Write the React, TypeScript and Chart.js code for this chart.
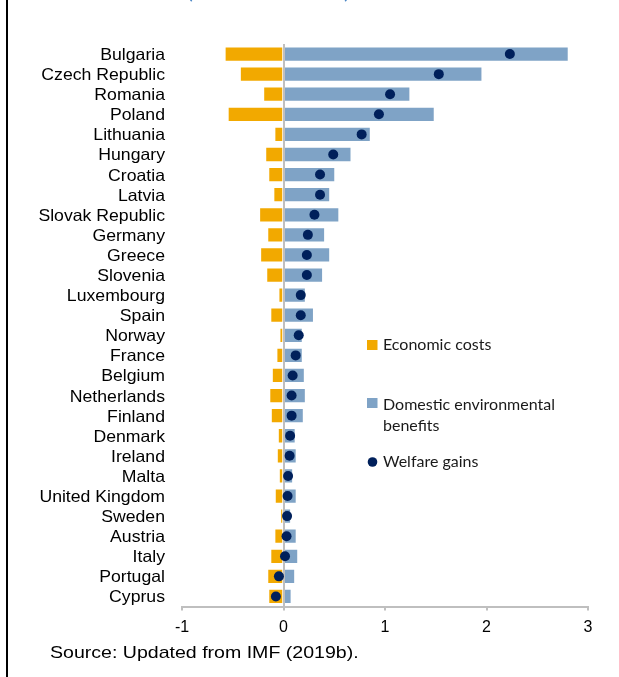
import React, { useEffect, useRef } from "react";
import { Chart, registerables } from "chart.js";

Chart.register(...registerables);

const countries = [
  "Bulgaria", "Czech Republic", "Romania", "Poland", "Lithuania", "Hungary", "Croatia",
  "Latvia", "Slovak Republic", "Germany", "Greece", "Slovenia", "Luxembourg", "Spain",
  "Norway", "France", "Belgium", "Netherlands", "Finland", "Denmark", "Ireland", "Malta",
  "United Kingdom", "Sweden", "Austria", "Italy", "Portugal", "Cyprus",
];

const economicCosts = [
  -0.58, -0.43, -0.2, -0.55, -0.09, -0.18, -0.15, -0.1, -0.24, -0.16, -0.23, -0.17, -0.05, -0.13,
  -0.04, -0.07, -0.115, -0.14, -0.125, -0.056, -0.066, -0.046, -0.086, -0.033, -0.09, -0.13, -0.16, -0.15,
];

const environmentalBenefits = [
  2.81, 1.96, 1.25, 1.49, 0.86, 0.67, 0.51, 0.46, 0.55, 0.41, 0.46, 0.39, 0.22, 0.3,
  0.19, 0.19, 0.21, 0.22, 0.2, 0.12, 0.13, 0.095, 0.13, 0.075, 0.13, 0.145, 0.115, 0.08,
];

const welfareGains = [
  2.23, 1.53, 1.05, 0.94, 0.77, 0.49, 0.36, 0.36, 0.305, 0.24, 0.23, 0.23, 0.17, 0.17,
  0.15, 0.12, 0.09, 0.08, 0.08, 0.065, 0.06, 0.045, 0.04, 0.035, 0.03, 0.015, -0.045, -0.075,
];

const xTicks = [-1, 0, 1, 2, 3];

const seriesNames = ["Economic costs", "Domestic environmental", "benefits", "Welfare gains"];
const titleText = "(Percent of GDP)";
const sourceText = "Source: Updated from IMF (2019b).";

const ORANGE = "#F2A900";
const BLUE = "#7FA3C6";
const NAVY = "#00205B";
const GRAY = "#BFBFBF";

function drawStretched(ctx: CanvasRenderingContext2D, text: string, x: number, y: number, sx: number, align: CanvasTextAlign) {
  ctx.save();
  ctx.translate(x, y);
  ctx.scale(sx, 1);
  ctx.textAlign = align;
  ctx.textBaseline = "alphabetic";
  ctx.fillText(text, 0, 0);
  ctx.restore();
}

const decorPlugin = {
  id: "decor",
  beforeDatasetDraw(chart: any, args: any) {
    if (args.meta.type !== "line") return;
    const ctx = chart.ctx as CanvasRenderingContext2D;
    const xs = chart.scales.x;
    const area = chart.chartArea;
    const x0 = Math.round(xs.getPixelForValue(0));
    ctx.save();
    ctx.strokeStyle = GRAY;
    ctx.lineWidth = 2;
    ctx.beginPath();
    ctx.moveTo(x0, area.top);
    ctx.lineTo(x0, area.bottom);
    ctx.stroke();
    ctx.restore();
  },
  afterDraw(chart: any) {
    const ctx = chart.ctx as CanvasRenderingContext2D;
    const ys = chart.scales.y;
    ctx.save();
    ctx.fillStyle = "#000";
    ctx.font = '16.5px "Liberation Sans", Arial, sans-serif';
    countries.forEach((c, i) => {
      const py = ys.getPixelForValue(i);
      drawStretched(ctx, c, 165, py + 6, 1.07, "right");
    });

    // legend
    ctx.font = '16px Lato, "Noto Sans", sans-serif';
    ctx.fillStyle = ORANGE;
    ctx.fillRect(367, 340, 10.5, 10);
    ctx.fillStyle = BLUE;
    ctx.fillRect(367, 398, 10.5, 10);
    ctx.fillStyle = NAVY;
    ctx.beginPath();
    ctx.arc(372.5, 462, 4.8, 0, Math.PI * 2);
    ctx.fill();
    ctx.fillStyle = "#1a1a1a";
    drawStretched(ctx, seriesNames[0], 383, 350, 1, "left");
    drawStretched(ctx, seriesNames[1], 383, 409.5, 1, "left");
    drawStretched(ctx, seriesNames[2], 383, 430.5, 1, "left");
    drawStretched(ctx, seriesNames[3], 383, 467, 1, "left");

    // source
    ctx.fillStyle = "#000";
    ctx.font = '17px "Liberation Sans", Arial, sans-serif';
    drawStretched(ctx, sourceText, 50, 658, 1.15, "left");

    // clipped title
    ctx.fillStyle = "#4A86C5";
    ctx.font = '17px Lato, "Noto Sans", sans-serif';
    const w = ctx.measureText(titleText).width;
    drawStretched(ctx, titleText, 187, -1.5, 163 / w, "left");
    ctx.restore();
  },
};

export default function App() {
  const ref = useRef<HTMLCanvasElement | null>(null);

  useEffect(() => {
    if (!ref.current) return;
    const chart = new Chart(ref.current, {
      type: "bar",
      data: {
        labels: countries,
        datasets: [
          {
            type: "line" as any,
            label: seriesNames[3],
            data: welfareGains,
            showLine: false,
            pointRadius: 5,
            pointHoverRadius: 5,
            pointBackgroundColor: NAVY,
            pointBorderWidth: 0,
            borderColor: NAVY,
            order: 0,
          } as any,
          {
            label: seriesNames[0],
            data: economicCosts,
            backgroundColor: ORANGE,
            borderColor: "rgba(255,255,255,0.85)",
            borderWidth: 1,
            categoryPercentage: 1,
            barPercentage: 0.76,
            order: 1,
          },
          {
            label: seriesNames[1] + " " + seriesNames[2],
            data: environmentalBenefits,
            backgroundColor: BLUE,
            borderColor: "rgba(255,255,255,0.85)",
            borderWidth: 1,
            categoryPercentage: 1,
            barPercentage: 0.76,
            order: 2,
          },
        ],
      },
      options: {
        indexAxis: "y",
        animation: false,
        responsive: false,
        events: [],
        layout: { padding: { top: 44, left: 0, right: 31, bottom: 40.5 } },
        plugins: {
          legend: { display: false },
          tooltip: { enabled: false },
          title: { display: false },
        },
        scales: {
          x: {
            type: "linear",
            stacked: true,
            min: -1,
            max: 3,
            afterBuildTicks: (s: any) => {
              s.ticks = xTicks.map((v) => ({ value: v }));
            },
            afterFit: (s: any) => {
              s.height = 30;
            },
            grid: {
              drawOnChartArea: false,
              drawTicks: true,
              tickLength: 4,
              color: GRAY,
              lineWidth: 2,
            },
            border: { display: true, color: GRAY, width: 2 },
            ticks: {
              color: "#000",
              font: { family: '"Liberation Sans", Arial, sans-serif', size: 16 },
              padding: 7,
              maxRotation: 0,
            },
          },
          y: {
            type: "category",
            stacked: true,
            afterFit: (s: any) => {
              s.width = 182;
            },
            grid: { display: false },
            border: { display: false },
            ticks: { display: false },
          },
        },
      },
      plugins: [decorPlugin],
    });
    return () => chart.destroy();
  }, []);

  return (
    <div style={{ position: "fixed", left: 0, top: 0, width: 619, height: 677, background: "#fff" }}>
      <canvas ref={ref} width={619} height={677} style={{ position: "absolute", left: 0, top: 0, width: 619, height: 677 }} />
      <div style={{ position: "absolute", left: 6, top: 0, width: 2, height: 677, background: "#000" }} />
    </div>
  );
}
